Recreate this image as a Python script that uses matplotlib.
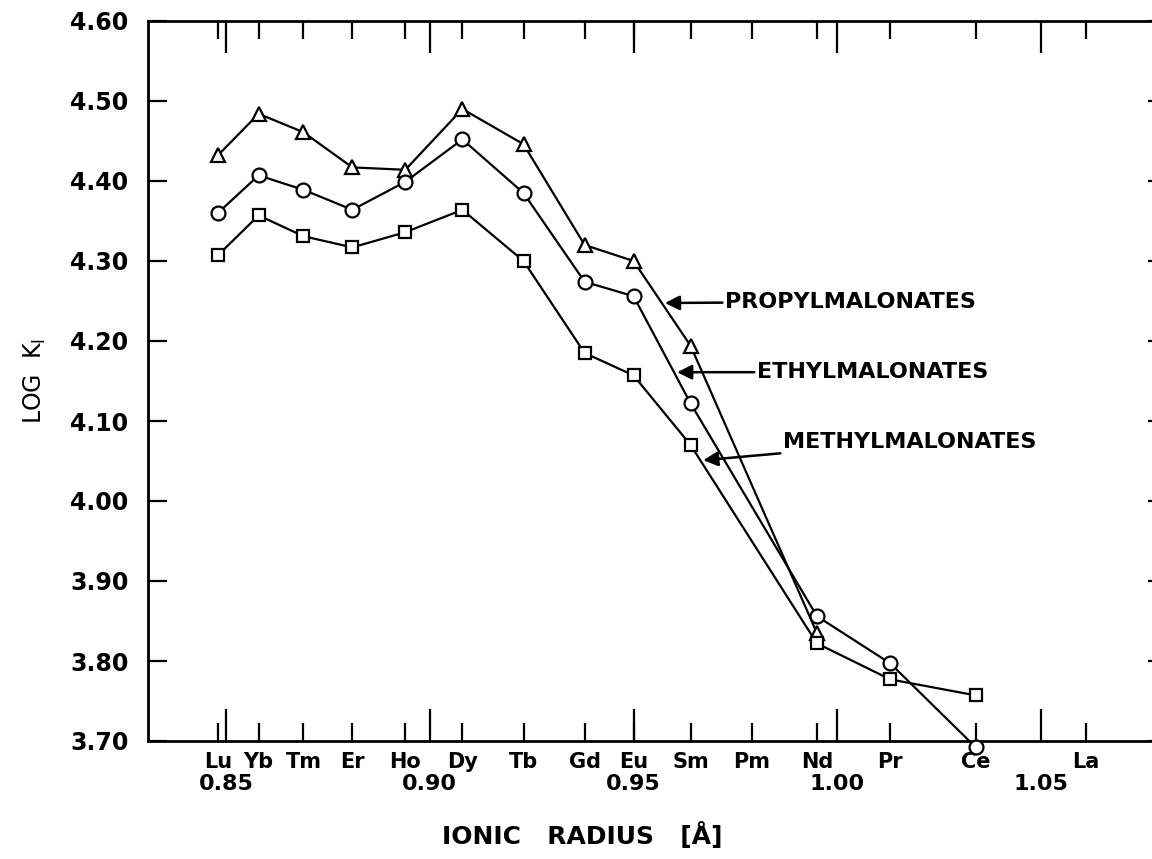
import matplotlib
matplotlib.use("Agg")
import matplotlib.pyplot as plt
from matplotlib.ticker import FixedLocator, FormatStrFormatter

# lanthanide ionic radii (Angstrom)
elements = ['Lu', 'Yb', 'Tm', 'Er', 'Ho', 'Dy', 'Tb', 'Gd', 'Eu', 'Sm', 'Pm', 'Nd', 'Pr', 'Ce', 'La']
radius = [0.848, 0.858, 0.869, 0.881, 0.894, 0.908, 0.923, 0.938, 0.950, 0.964, 0.979, 0.995, 1.013, 1.034, 1.061]
r_of = dict(zip(elements, radius))

# log K1
propyl_el = ['Lu', 'Yb', 'Tm', 'Er', 'Ho', 'Dy', 'Tb', 'Gd', 'Eu', 'Sm', 'Nd']
propyl = [4.432, 4.484, 4.461, 4.417, 4.414, 4.490, 4.446, 4.320, 4.300, 4.194, 3.835]

ethyl_el = ['Lu', 'Yb', 'Tm', 'Er', 'Ho', 'Dy', 'Tb', 'Gd', 'Eu', 'Sm', 'Nd', 'Pr', 'Ce']
ethyl = [4.360, 4.407, 4.389, 4.364, 4.399, 4.452, 4.385, 4.274, 4.256, 4.122, 3.856, 3.797, 3.692]

methyl_el = ['Lu', 'Yb', 'Tm', 'Er', 'Ho', 'Dy', 'Tb', 'Gd', 'Eu', 'Sm', 'Nd', 'Pr', 'Ce']
methyl = [4.307, 4.357, 4.331, 4.317, 4.336, 4.364, 4.300, 4.185, 4.157, 4.070, 3.822, 3.777, 3.757]

major_x = [0.85, 0.90, 0.95, 1.00, 1.05]
major_x_labels = ['0.85', '0.90', '0.95', '1.00', '1.05']
y_ticks = [3.70, 3.80, 3.90, 4.00, 4.10, 4.20, 4.30, 4.40, 4.50, 4.60]

fig = plt.figure(figsize=(11.52, 8.59), dpi=100)
ax = fig.add_axes([148 / 1152, 118 / 859, 1019 / 1152, 720 / 859])

style = dict(color='black', lw=1.6, mfc='white', mec='black', mew=1.6, clip_on=False, zorder=3)
ax.plot([r_of[e] for e in propyl_el], propyl, marker='^', ms=10, **style)
ax.plot([r_of[e] for e in ethyl_el], ethyl, marker='o', ms=10, **style)
ax.plot([r_of[e] for e in methyl_el], methyl, marker='s', ms=9, **style)

ax.set_xlim(0.83086, 1.0809)
ax.set_ylim(3.70, 4.60)

# x axis: numeric majors + element minors
ax.xaxis.remove_overlapping_locs = False
ax.xaxis.set_major_locator(FixedLocator(major_x))
ax.set_xticklabels(major_x_labels)
ax.xaxis.set_minor_locator(FixedLocator(radius))
ax.set_xticklabels(elements, minor=True)
ax.tick_params(axis='x', which='major', direction='in', length=23, width=1.6,
               top=True, pad=24, labelsize=16)
ax.tick_params(axis='x', which='minor', direction='in', length=13, width=1.6,
               top=True, pad=8, labelsize=15)
for lab in ax.get_xticklabels(which='both'):
    lab.set_fontweight('bold')

ax.set_yticks(y_ticks)
ax.yaxis.set_major_formatter(FormatStrFormatter('%.2f'))
ax.tick_params(axis='y', direction='in', length=14, width=1.6, right=True, pad=14, labelsize=17)
for lab in ax.get_yticklabels():
    lab.set_fontweight('bold')

ax.spines['right'].set_visible(False)
for s in ['left', 'top', 'bottom']:
    ax.spines[s].set_linewidth(2)

ax.set_ylabel('LOG  K$_\\mathregular{I}$', fontsize=17, labelpad=16)
ax.set_xlabel('IONIC   RADIUS   [Å]', fontsize=18, fontweight='bold')
ax.xaxis.set_label_coords(0.426, -0.112)

arrow = dict(arrowstyle='-|>', color='black', lw=1.8, mutation_scale=22, shrinkA=0, shrinkB=0)
ax.annotate('PROPYLMALONATES', xy=(0.9577, 4.2475), xytext=(0.9725, 4.249),
            ha='left', va='center', fontsize=16, fontweight='bold', arrowprops=arrow)
ax.annotate('ETHYLMALONATES', xy=(0.9607, 4.161), xytext=(0.9803, 4.161),
            ha='left', va='center', fontsize=16, fontweight='bold', arrowprops=arrow)
ax.annotate('METHYLMALONATES', xy=(0.9671, 4.051), xytext=(0.9867, 4.074),
            ha='left', va='center', fontsize=16, fontweight='bold', arrowprops=arrow)

plt.savefig('out.png', dpi=100)
